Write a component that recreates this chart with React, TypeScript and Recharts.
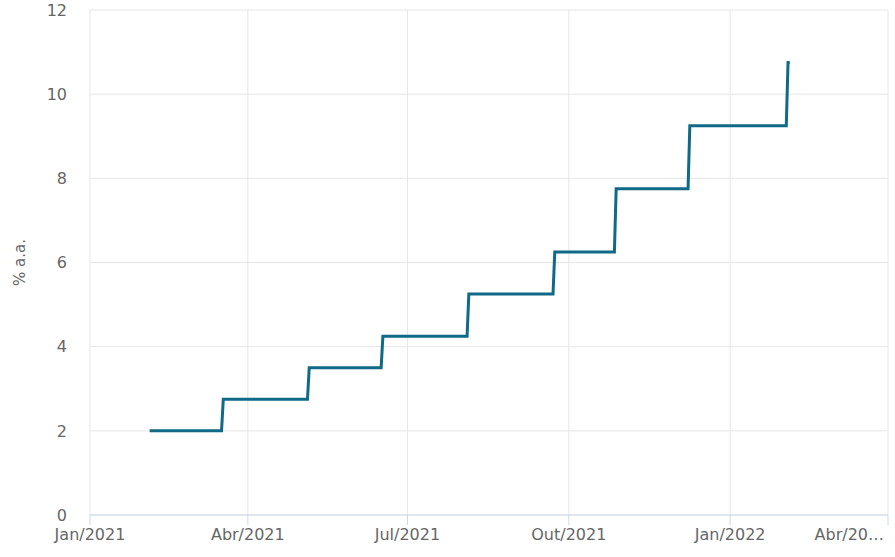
import { LineChart, Line, XAxis, YAxis, CartesianGrid } from 'recharts';

// Selic meta (% a.a.) — datas de vigência
const changeDates = ['2021-03-18', '2021-05-06', '2021-06-17', '2021-08-05', '2021-09-23', '2021-10-28', '2021-12-09', '2022-02-03'];
const rates = [2.75, 3.5, 4.25, 5.25, 6.25, 7.75, 9.25, 10.75];
const startDate = '2021-02-04';
const startRate = 2.0;
const endDate = '2022-02-04';

const tickDates = ['2021-01-01', '2021-04-01', '2021-07-01', '2021-10-01', '2022-01-01', '2022-04-01'];
const tickLabels = ['Jan/2021', 'Abr/2021', 'Jul/2021', 'Out/2021', 'Jan/2022', 'Abr/2022'];
const yTicks = [0, 2, 4, 6, 8, 10, 12];

const DAY = 86400000;
const ts = (d: string) => new Date(d + 'T00:00:00Z').getTime();

const data: { t: number; v: number }[] = [{ t: ts(startDate), v: startRate }];
changeDates.forEach((d, i) => {
  const prev = i === 0 ? startRate : rates[i - 1];
  data.push({ t: ts(d) - DAY, v: prev });
  data.push({ t: ts(d), v: rates[i] });
});
data.push({ t: ts(endDate), v: rates[rates.length - 1] });

const xTicks = tickDates.map(ts);

const font = '"DejaVu Sans", sans-serif';

function XTick(props: any) {
  const { x, y, payload, index } = props;
  const i = xTicks.indexOf(payload.value);
  const label = tickLabels[i] ?? '';
  const last = index === xTicks.length - 1;
  return (
    <text
      x={last ? x - 4 : x}
      y={y}
      dy="0.71em"
      textAnchor={last ? 'end' : 'middle'}
      fill="#666666"
      fontSize={16}
      fontFamily={font}
    >
      {last ? label.slice(0, 6) + '…' : label}
    </text>
  );
}

export default function App() {
  return (
    <div style={{ position: 'absolute', left: 0, top: 0, width: 895, height: 557, background: '#fff' }}>
      <LineChart width={895} height={557} data={data} margin={{ top: 10, right: 7, bottom: 0, left: 0 }}>
        <CartesianGrid stroke="#e6e6e6" strokeWidth={1} />
        <XAxis
          dataKey="t"
          type="number"
          scale="time"
          domain={[xTicks[0], xTicks[xTicks.length - 1]]}
          ticks={xTicks}
          height={42}
          tickSize={10}
          tickMargin={4}
          stroke="#ccd6eb"
          tickLine={{ stroke: '#ccd6eb' }}
          axisLine={{ stroke: '#ccd6eb' }}
          tick={<XTick />}
          interval={0}
        />
        <YAxis
          type="number"
          domain={[0, 12]}
          ticks={yTicks}
          width={90}
          axisLine={false}
          tickLine={false}
          tickSize={0}
          tickMargin={23}
          tick={{ fill: '#666666', fontSize: 16, fontFamily: font }}
          label={{
            value: '% a.a.',
            angle: -90,
            position: 'insideLeft',
            offset: 20,
            style: { fill: '#666666', fontSize: 15, fontFamily: font, textAnchor: 'middle' },
          }}
        />
        <Line
          type="linear"
          dataKey="v"
          stroke="#106a87"
          strokeWidth={3}
          dot={false}
          activeDot={false}
          isAnimationActive={false}
        />
      </LineChart>
    </div>
  );
}
